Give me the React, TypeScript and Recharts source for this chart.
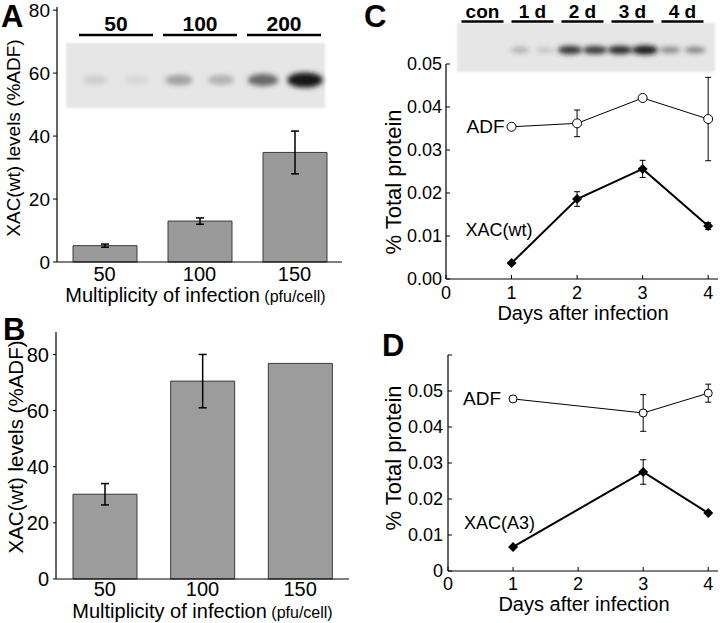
import React from "react";
import { BarChart, Bar, LineChart, Line, XAxis, YAxis, ErrorBar, LabelList, Label } from "recharts";

const FONT = '"Liberation Sans", Arial, Helvetica, sans-serif';

// A / B: XAC(wt) level (% of ADF) against multiplicity of infection
const moiLabels = ["50", "100", "150"];
const xacLevelA = [5.2, 13.0, 34.8];
const xacLevelAErr = [0.5, 1.0, 6.8];
const xacLevelB = [30.2, 70.5, 76.8];
const xacLevelBErr = [3.8, 9.5, 0];
const levelTicks = [0, 20, 40, 60, 80];

// C: % total protein, XAC(wt) experiment
const daysC = [1, 2, 3, 4];
const adfC = [0.0354, 0.0362, 0.0421, 0.0372];
const adfCErr = [0.0005, 0.0031, 0, 0.0097];
const xacWtC = [0.0037, 0.0186, 0.0256, 0.0123];
const xacWtCErr = [0, 0.0017, 0.002, 0.0008];

// D: % total protein, XAC(A3) experiment
const daysD = [1, 3, 4];
const adfD = [0.0478, 0.0439, 0.0494];
const adfDErr = [0, 0.0051, 0.0025];
const xacA3D = [0.0067, 0.0275, 0.0161];
const xacA3DErr = [0, 0.0034, 0];

const dayTicks = [0, 1, 2, 3, 4];
const proteinTicksC = [0, 0.01, 0.02, 0.03, 0.04, 0.05];
const proteinTicksD = [0, 0.01, 0.02, 0.03, 0.04, 0.05, 0.06];

// blot insets: band darkness per lane (0..1)
const blotALabels = ["50", "100", "200"];
const blotABands = [0.07, 0.03, 0.28, 0.2, 0.55, 0.95];
const blotCLabels = ["con", "1 d", "2 d", "3 d", "4 d"];
const blotCBands = [0, 0, 0.22, 0.12, 0.8, 0.78, 0.85, 0.95, 0.4, 0.42];

const barsA = moiLabels.map((moi, i) => ({ moi, level: xacLevelA[i], err: xacLevelAErr[i] }));
const barsB = moiLabels.map((moi, i) => ({ moi, level: xacLevelB[i], err: xacLevelBErr[i] }));

const series = (days: number[], values: number[], errs: number[]) =>
  days.map((day, i) => ({ day, value: values[i], err: errs[i] }));

const adfSeriesC = series(daysC, adfC, adfCErr);
const xacSeriesC = series(daysC, xacWtC, xacWtCErr);
const adfSeriesD = series(daysD, adfD, adfDErr);
const xacSeriesD = series(daysD, xacA3D, xacA3DErr);

// rotated y title, centre given in chart coordinates
const yTitle = (text: string, cx: number, cy: number, size: number) => () => (
  <text
    x={cx}
    y={cy}
    transform={`rotate(-90 ${cx} ${cy})`}
    textAnchor="middle"
    dominantBaseline="central"
    fontSize={size}
    fontFamily={FONT}
    fill="#000"
  >
    {text}
  </text>
);

function XTitle({ viewBox, text, unit, dx, dy }: any) {
  const cx = viewBox.x + viewBox.width / 2 + dx;
  return (
    <text x={cx} y={viewBox.y + dy} textAnchor="middle" fontSize={20} fontFamily={FONT} fill="#000">
      {text}
      {unit ? <tspan fontSize={16}>{" " + unit}</tspan> : null}
    </text>
  );
}

const openDot = (r: number) => (p: any) =>
  <circle key={`o${p.index}`} cx={p.cx} cy={p.cy} r={r} fill="#fff" stroke="#000" strokeWidth={1} />;

const diamondDot = (s: number) => (p: any) => (
  <path
    key={`d${p.index}`}
    d={`M${p.cx},${p.cy - s}L${p.cx + s},${p.cy}L${p.cx},${p.cy + s}L${p.cx - s},${p.cy}Z`}
    fill="#000"
  />
);

// series name written next to the first point
const seriesTag = (name: string, dx: number, dy: number, anchor: string, size: number) => (p: any) => {
  if (p.index !== 0) return null;
  const x = p.x ?? p.viewBox?.x;
  const y = p.y ?? p.viewBox?.y;
  return (
    <text x={x + dx} y={y + dy} textAnchor={anchor} dominantBaseline="central" fontSize={size} fontFamily={FONT} fill="#000">
      {name}
    </text>
  );
};

function BlotInset({ left, top, width, height, laneStart, lanePitch, bandY, bands, labels, labelY, ruleY, ruleHalf, fontSize, bandRx, bandRy }: any) {
  return (
    <g>
      <rect x={left} y={top} width={width} height={height} fill="#e6e6e6" filter="url(#edge)" />
      {bands.map((d: number, i: number) => {
        if (d <= 0) return null;
        const g = Math.round(220 - 210 * d);
        return (
          <ellipse
            key={i}
            cx={laneStart + i * lanePitch}
            cy={bandY}
            rx={bandRx * (0.8 + 0.4 * d)}
            ry={bandRy * (0.7 + 0.6 * d)}
            fill={`rgb(${g},${g},${g})`}
            filter="url(#band)"
          />
        );
      })}
      {labels.map((t: string, j: number) => {
        const cx = laneStart + (2 * j + 0.5) * lanePitch;
        return (
          <g key={t}>
            <text x={cx} y={labelY} textAnchor="middle" fontWeight="bold" fontSize={fontSize} fontFamily={FONT} fill="#000">
              {t}
            </text>
            <line x1={cx - ruleHalf} x2={cx + ruleHalf} y1={ruleY} y2={ruleY} stroke="#000" strokeWidth={2.5} />
          </g>
        );
      })}
    </g>
  );
}

const tickStyle = (size: number) => ({ fill: "#000", fontSize: size, fontFamily: FONT });
const axisStroke = { stroke: "#000", strokeWidth: 1.2 };

export default function App() {
  return (
    <div
      style={{
        position: "absolute",
        left: 0,
        top: 0,
        width: 720,
        height: 623,
        background: "#fff",
        overflow: "hidden",
        fontFamily: FONT,
      }}
    >
      {/* A */}
      <div style={{ position: "absolute", left: 0, top: 0 }}>
        <BarChart width={360} height={310} data={barsA} margin={{ top: 7, right: 18, bottom: 8, left: 20 }}>
          <XAxis dataKey="moi" height={40} tickLine={false} tickSize={0} tickMargin={5} interval={0} axisLine={axisStroke} tick={tickStyle(20)}>
            <Label content={(p: any) => <XTitle viewBox={p.viewBox} text="Multiplicity of infection" unit="(pfu/cell)" dx={-4} dy={40} />} />
          </XAxis>
          <XAxis xAxisId="top" orientation="top" type="number" domain={[0, 1]} height={0} tick={false} tickLine={false} axisLine={axisStroke} />
          <YAxis width={37} type="number" domain={[0, 81]} ticks={levelTicks} interval={0} tickSize={4} tickMargin={3} axisLine={axisStroke} tickLine={{ stroke: "#000" }} tick={tickStyle(19)}>
            <Label content={yTitle("XAC(wt) levels (%ADF)", 13, 138, 19)} />
          </YAxis>
          <YAxis yAxisId="right" orientation="right" type="number" domain={[0, 81]} width={0} tick={false} tickLine={false} axisLine={axisStroke} />
          <Bar dataKey="level" barSize={64} fill="#9a9a9a" stroke="#3c3c3c" strokeWidth={1} isAnimationActive={false}>
            <ErrorBar dataKey="err" width={4} stroke="#000" strokeWidth={1.5} />
          </Bar>
        </BarChart>
      </div>

      {/* B */}
      <div style={{ position: "absolute", left: 0, top: 310 }}>
        <BarChart width={360} height={313} data={barsB} margin={{ top: 22, right: 11, bottom: 8, left: 19 }}>
          <XAxis dataKey="moi" height={36} tickLine={false} tickSize={0} tickMargin={3} interval={0} axisLine={axisStroke} tick={tickStyle(20)}>
            <Label content={(p: any) => <XTitle viewBox={p.viewBox} text="Multiplicity of infection" unit="(pfu/cell)" dx={0} dy={39} />} />
          </XAxis>
          <XAxis xAxisId="top" orientation="top" type="number" domain={[0, 1]} height={0} tick={false} tickLine={false} axisLine={axisStroke} />
          <YAxis width={37} type="number" domain={[0, 88]} ticks={levelTicks} interval={0} tickSize={3} tickMargin={4} axisLine={axisStroke} tickLine={{ stroke: "#000" }} tick={tickStyle(20)}>
            <Label content={yTitle("XAC(wt) levels (%ADF)", 15, 137, 20.5)} />
          </YAxis>
          <YAxis yAxisId="right" orientation="right" type="number" domain={[0, 88]} width={0} tick={false} tickLine={false} axisLine={axisStroke} />
          <Bar dataKey="level" barSize={64} fill="#9c9c9c" stroke="#3c3c3c" strokeWidth={1} isAnimationActive={false}>
            <ErrorBar dataKey="err" width={4} stroke="#000" strokeWidth={1.5} />
          </Bar>
        </BarChart>
      </div>

      {/* C */}
      <div style={{ position: "absolute", left: 360, top: 0 }}>
        <LineChart width={360} height={325} margin={{ top: 64, right: 2, bottom: 8, left: 20 }}>
          <XAxis dataKey="day" type="number" domain={[0, 4.15]} ticks={dayTicks} interval={0} allowDataOverflow height={38} tickSize={-4} tickMargin={11} axisLine={axisStroke} tickLine={{ stroke: "#000" }} tick={tickStyle(18)}>
            <Label content={(p: any) => <XTitle viewBox={p.viewBox} text="Days after infection" dx={1} dy={41} />} />
          </XAxis>
          <YAxis width={66} type="number" domain={[0, 0.05]} ticks={proteinTicksC} interval={0} tickFormatter={(v: number) => v.toFixed(2)} tickSize={-4} tickMargin={8} axisLine={axisStroke} tickLine={{ stroke: "#000" }} tick={tickStyle(18)}>
            <Label content={yTitle("% Total protein", 33, 182, 22)} />
          </YAxis>
          <Line data={adfSeriesC} dataKey="value" type="linear" stroke="#000" strokeWidth={1} dot={openDot(4.5)} isAnimationActive={false}>
            <ErrorBar dataKey="err" width={3} stroke="#000" strokeWidth={1} />
            <LabelList dataKey="value" content={seriesTag("ADF", -7, 0, "end", 19)} />
          </Line>
          <Line data={xacSeriesC} dataKey="value" type="linear" stroke="#000" strokeWidth={2} dot={diamondDot(5)} isAnimationActive={false}>
            <ErrorBar dataKey="err" width={3} stroke="#000" strokeWidth={1} />
            <LabelList dataKey="value" content={seriesTag("XAC(wt)", -46, -33, "start", 18)} />
          </Line>
        </LineChart>
      </div>

      {/* D */}
      <div style={{ position: "absolute", left: 360, top: 300 }}>
        <LineChart width={360} height={323} margin={{ top: 55, right: 2, bottom: 8, left: 22 }}>
          <XAxis dataKey="day" type="number" domain={[0, 4.15]} ticks={dayTicks} interval={0} allowDataOverflow height={44} tickSize={-4} tickMargin={10} axisLine={axisStroke} tickLine={{ stroke: "#000" }} tick={tickStyle(18)}>
            <Label content={(p: any) => <XTitle viewBox={p.viewBox} text="Days after infection" dx={1} dy={40} />} />
          </XAxis>
          <YAxis width={66} type="number" domain={[0, 0.06]} ticks={proteinTicksD} interval={0} tickFormatter={(v: number) => (v === 0 ? "0" : v > 0.055 ? "" : v.toFixed(2))} tickSize={-4} tickMargin={9} axisLine={axisStroke} tickLine={{ stroke: "#000" }} tick={tickStyle(18)}>
            <Label content={yTitle("% Total protein", 33, 158, 22)} />
          </YAxis>
          <Line data={adfSeriesD} dataKey="value" type="linear" stroke="#000" strokeWidth={1} dot={openDot(4)} isAnimationActive={false}>
            <ErrorBar dataKey="err" width={3} stroke="#000" strokeWidth={1} />
            <LabelList dataKey="value" content={seriesTag("ADF", -12, 0, "end", 19)} />
          </Line>
          <Line data={xacSeriesD} dataKey="value" type="linear" stroke="#000" strokeWidth={2} dot={diamondDot(5)} isAnimationActive={false}>
            <ErrorBar dataKey="err" width={3} stroke="#000" strokeWidth={1} />
            <LabelList dataKey="value" content={seriesTag("XAC(A3)", -49, -24, "start", 18)} />
          </Line>
        </LineChart>
      </div>

      {/* panel letters and blot insets */}
      <svg width={720} height={623} style={{ position: "absolute", left: 0, top: 0, pointerEvents: "none" }}>
        <defs>
          <filter id="band" x="-50%" y="-100%" width="200%" height="300%">
            <feGaussianBlur stdDeviation="2.4" />
          </filter>
          <filter id="edge" x="-5%" y="-10%" width="110%" height="120%">
            <feGaussianBlur stdDeviation="1" />
          </filter>
        </defs>
        <BlotInset
          left={66} top={43} width={259} height={65}
          laneStart={95} lanePitch={42} bandY={80} bands={blotABands}
          labels={blotALabels} labelY={31} ruleY={35} ruleHalf={37} fontSize={21}
          bandRx={15} bandRy={6}
        />
        <BlotInset
          left={457} top={23} width={258} height={49}
          laneStart={470} lanePitch={25} bandY={50} bands={blotCBands}
          labels={blotCLabels} labelY={18} ruleY={21.5} ruleHalf={21} fontSize={19}
          bandRx={11} bandRy={3.5}
        />
        <g fontFamily={FONT} fontWeight="bold" fontSize={31} fill="#000">
          <text x={1} y={27}>A</text>
          <text x={3} y={340}>B</text>
          <text x={364} y={27}>C</text>
          <text x={382} y={356}>D</text>
        </g>
      </svg>
    </div>
  );
}
